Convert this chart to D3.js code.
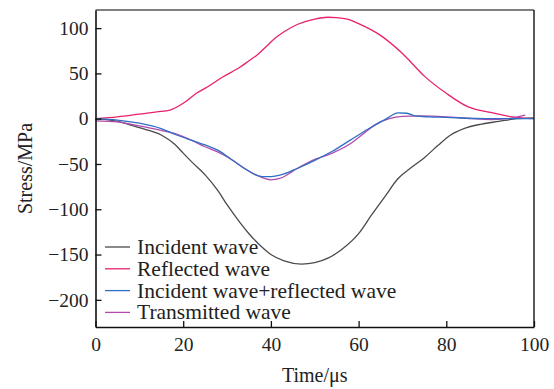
<!DOCTYPE html>
<html>
<head>
<meta charset="utf-8">
<script src="https://cdn.jsdelivr.net/npm/d3@7"></script>
<style>
  body { margin: 0; background: #fff; }
  text { font-family: "Liberation Serif", "Times New Roman", serif; fill: #222; }
</style>
</head>
<body>
<div id="chart"></div>
<script>
// time in us, stress in MPa
var incidentT = [0, 5, 10, 15, 18, 20, 22, 25, 28, 30, 33, 35, 38, 40, 43, 47, 50, 53, 56, 60, 63, 66, 69, 72, 75, 78, 81, 84, 88, 92, 96, 100];
var incidentV = [0, -3, -10, -18, -28, -38, -48, -62, -80, -95, -115, -127, -142, -150, -157, -160.5, -159, -154, -145, -127, -106, -86, -66, -54, -43, -30, -18, -11, -6, -3, 0, 1];

var reflectedT = [0, 5, 10, 14, 17, 20, 23, 25.5, 29, 33, 35, 37, 39, 41, 43, 46, 50, 53, 55, 58, 60, 65, 70, 75, 80, 85, 90, 95, 100];
var reflectedV = [0, 2, 5, 7.5, 9.5, 17, 28, 35, 46, 57, 64, 71, 80, 89, 96, 104, 110, 112, 111.5, 109, 105, 92, 72, 47, 28, 13, 7, 2, 0];

var sumT = [0, 5, 10, 15, 18.5, 22, 25, 28, 31, 34, 38, 40, 43, 46, 50, 54, 58, 62, 66, 69, 71, 73, 76, 80, 85, 90, 95, 100];
var sumV = [0, -1.5, -5, -11, -18, -24, -29, -35, -45, -55, -64, -64, -61, -55, -46, -36, -24, -12, -1, 6.5, 6, 3, 2, 1.5, 0.5, 0, 0, 0];

var transT = [0, 5, 10, 15, 18.5, 22, 25, 28, 31, 34, 37, 40, 42, 46, 50, 54, 58, 61, 64, 67, 70, 74, 78, 82, 86, 90, 94, 98];
var transV = [-2.5, -3.5, -8, -13, -17, -24, -31, -37, -45, -55, -63, -67.5, -66, -55, -45, -38, -28, -17, -6, 0, 2.5, 3, 2.5, 1.5, 0, -1, 0, 4];

var xTicks = [0, 20, 40, 60, 80, 100];
var yTicks = [100, 50, 0, -50, -100, -150, -200];

var seriesNames = ["Incident wave", "Reflected wave", "Incident wave+reflected wave", "Transmitted wave"];
var colors = ["#4a4a4a", "#e8206e", "#2f6fc4", "#b04aae"];

var width = 554, height = 389;
var margin = {top: 10, right: 20, bottom: 62, left: 95.5};

var svg = d3.select("#chart")
    .append("svg")
    .attr("width", width)
    .attr("height", height);

var x = d3.scaleLinear().domain([0, 100]).range([margin.left, 534]);
var y = d3.scaleLinear().domain([-230, 120]).range([327, margin.top]);

var line = d3.line()
    .x(function(d) { return x(d[0]); })
    .y(function(d) { return y(d[1]); })
    .curve(d3.curveMonotoneX);

var allSeries = [
    d3.zip(incidentT, incidentV),
    d3.zip(reflectedT, reflectedV),
    d3.zip(sumT, sumV),
    d3.zip(transT, transV)
];

// draw order: incident, reflected, transmitted, sum on top
[0, 1, 3, 2].forEach(function(i) {
    svg.append("path")
        .datum(allSeries[i])
        .attr("fill", "none")
        .attr("stroke", colors[i])
        .attr("stroke-width", 1.3)
        .attr("d", line);
});

// frame
svg.append("line").attr("x1", x(0)).attr("x2", x(100)).attr("y1", y(120)).attr("y2", y(120))
    .attr("stroke", "#555").attr("stroke-width", 1.5);
svg.append("line").attr("x1", x(100)).attr("x2", x(100)).attr("y1", y(120)).attr("y2", y(-230))
    .attr("stroke", "#222").attr("stroke-width", 1.5);

var xAxis = svg.append("g")
    .attr("transform", "translate(0," + y(-230) + ")")
    .call(d3.axisBottom(x).tickValues(xTicks).tickSizeInner(-6).tickSizeOuter(0).tickPadding(10));

var yAxis = svg.append("g")
    .attr("transform", "translate(" + x(0) + ",0)")
    .call(d3.axisLeft(y).tickValues(yTicks).tickSizeInner(-6).tickSizeOuter(0).tickPadding(7)
        .tickFormat(function(d) { return d < 0 ? "\u2212" + Math.abs(d) : d; }));

[xAxis, yAxis].forEach(function(g) {
    g.attr("font-family", null);
    g.select(".domain").attr("stroke", "#111").attr("stroke-width", 1.6);
    g.selectAll(".tick line").attr("stroke", "#111").attr("stroke-width", 1.3);
    g.selectAll(".tick text").attr("font-size", 19.5).attr("fill", "#222")
        .style("font-family", "'Liberation Serif', serif");
});

svg.append("text")
    .attr("x", (x(0) + x(100)) / 2)
    .attr("y", 382)
    .attr("text-anchor", "middle")
    .attr("font-size", 20)
    .text("Time/\u03bcs");

svg.append("text")
    .attr("transform", "translate(32," + (y(120) + y(-230)) / 2 + ") rotate(-90)")
    .attr("text-anchor", "middle")
    .attr("font-size", 20)
    .text("Stress/MPa");

// legend
var legend = svg.append("g").attr("transform", "translate(105,247)");
seriesNames.forEach(function(name, i) {
    var row = legend.append("g").attr("transform", "translate(0," + (i * 21.8) + ")");
    row.append("line")
        .attr("x1", 0).attr("x2", 25)
        .attr("stroke", colors[i]).attr("stroke-width", 1.3);
    row.append("text")
        .attr("x", 32).attr("y", 7)
        .attr("font-size", 21.5)
        .text(name);
});
</script>
</body>
</html>
